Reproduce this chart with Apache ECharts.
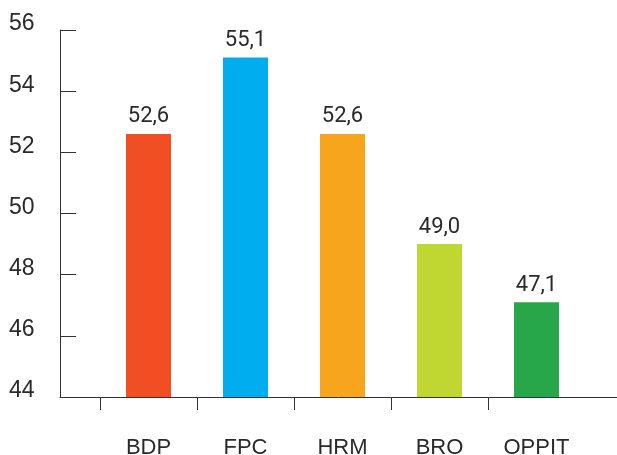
<!DOCTYPE html>
<html>
<head>
<meta charset="utf-8">
<script src="https://cdn.jsdelivr.net/npm/echarts@6/dist/echarts.min.js"></script>
<style>
  html, body { margin: 0; padding: 0; background: #fff; }
  #chart { width: 617px; height: 455px; }
</style>
</head>
<body>
<div id="chart"></div>
<script>
// Scores per group
const categories = ['BDP', 'FPC', 'HRM', 'BRO', 'OPPIT'];
const values = [52.6, 55.1, 52.6, 49.0, 47.1];
const barColors = ['#F14E24', '#00AEEF', '#F7A51D', '#BFD730', '#28A74A'];
const yTicks = { min: 44, max: 56, interval: 2 };

const axisColor = '#333333';
const textColor = '#2a2a2a';

const chart = echarts.init(document.getElementById('chart'));

const fmt = v => v.toFixed(1).replace('.', ',');

chart.setOption({
  animation: false,
  grid: [
    // full-width frame: y axis and long baseline
    { left: 60, right: 0, top: 30, bottom: 58, outerBoundsMode: 'none', containLabel: false },
    // plotting area for the bars
    { left: 100, width: 485, top: 30, bottom: 58, outerBoundsMode: 'none', containLabel: false }
  ],
  xAxis: [
    {
      gridIndex: 0, type: 'value', min: 0, max: 1, position: 'bottom',
      axisLine: { show: true, lineStyle: { color: axisColor, width: 1 } },
      axisTick: { show: false }, axisLabel: { show: false }, splitLine: { show: false }
    },
    {
      gridIndex: 1, type: 'category', data: categories, boundaryGap: true, position: 'bottom',
      axisLine: { show: false }, axisTick: { show: false },
      axisLabel: {
        margin: 40, color: textColor,
        fontFamily: '"Liberation Sans Narrow", "Liberation Sans", Arial, sans-serif',
        fontSize: 22
      }
    },
    {
      gridIndex: 1, type: 'value', min: 0, max: categories.length, position: 'bottom',
      axisLine: { show: false, onZero: false }, axisLabel: { show: false }, splitLine: { show: false },
      axisTick: {
        show: true, length: 13,
        customValues: categories.map((_, i) => i),
        lineStyle: { color: axisColor, width: 1 }
      }
    }
  ],
  yAxis: [
    {
      gridIndex: 0, type: 'value',
      min: yTicks.min, max: yTicks.max, interval: yTicks.interval,
      axisLine: { show: true, onZero: false, lineStyle: { color: axisColor, width: 1 } },
      axisTick: { show: true, inside: true, length: 16, lineStyle: { color: axisColor, width: 1 } },
      splitLine: { show: false },
      axisLabel: {
        align: 'left', verticalAlign: 'bottom', lineHeight: 12,
        margin: 51, color: textColor,
        fontFamily: '"Liberation Sans", Arial, sans-serif', fontSize: 23
      }
    },
    {
      gridIndex: 1, type: 'value',
      min: yTicks.min, max: yTicks.max, interval: yTicks.interval,
      show: false
    }
  ],
  series: [{
    type: 'bar',
    xAxisIndex: 1, yAxisIndex: 1,
    barWidth: 45,
    data: values.map((v, i) => ({ value: v, itemStyle: { color: barColors[i] } })),
    label: {
      show: true, position: 'top', distance: 6,
      formatter: p => fmt(p.value),
      color: textColor, fontFamily: 'Roboto, sans-serif', fontSize: 22
    }
  }]
});
</script>
</body>
</html>
